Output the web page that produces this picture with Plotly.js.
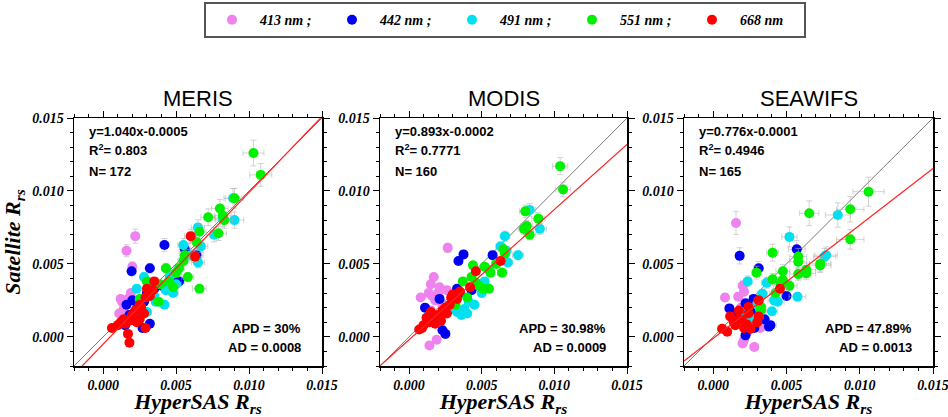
<!DOCTYPE html>
<html>
<head>
<meta charset="utf-8">
<script src="https://cdn.plot.ly/plotly-3.0.1.min.js"></script>
<style>html,body{margin:0;padding:0;background:#fff;}#chart{width:948px;height:417px;}</style>
</head>
<body>
<div id="chart"></div>
<script>
// ---------- DATA ----------
const sensors = ["MERIS", "MODIS", "SEAWIFS"];
const bands = ["413 nm ;", "442 nm ;", "491 nm ;", "551 nm ;", "668 nm"];
const bandColors = ["#EE82EE", "#0000F0", "#00E0F0", "#00F000", "#FF0000"];

const slopes = [1.040, 0.893, 0.776];
const intercepts = [-0.0005, -0.0002, -0.0001];
const eqText = ["y=1.040x-0.0005", "y=0.893x-0.0002", "y=0.776x-0.0001"];
const r2Text = ["0.803", "0.7771", "0.4946"];
const nText = ["172", "160", "165"];
const apdText = ["30%", "30.98%", "47.89%"];
const adText = ["0.0008", "0.0009", "0.0013"];
const errPct = [7, 5, 10];

// MERIS
const meris413x = [0.0022,0.0016,0.0020,0.0012,0.0015,0.0018,0.0014,0.0025,0.0011,0.0019,0.0013,0.0023,0.0016,0.0020];
const meris413y = [0.0069,0.0059,0.0048,0.0026,0.0022,0.0027,0.0019,0.0024,0.0016,0.0030,0.0024,0.0020,0.0014,0.0012];
const meris442x = [0.0042,0.00195,0.0032,0.0056,0.0064,0.0046,0.0052,0.0035,0.0020,0.0016,0.0026,0.0032,0.0027,0.0013,0.0018,0.0024,0.0040,0.0030,0.0015,0.0028];
const meris442y = [0.0063,0.0045,0.0047,0.0060,0.0056,0.0040,0.0038,0.0033,0.0025,0.0022,0.0018,0.0009,0.0006,0.0010,0.0015,0.0021,0.0035,0.0030,0.0008,0.0024];
const meris491x = [0.0065,0.0076,0.0082,0.0089,0.0090,0.0067,0.0065,0.0055,0.0046,0.0043,0.0042,0.0035,0.0028,0.0033,0.0026,0.0030,0.0023,0.0020,0.0036,0.0050,0.0060,0.0048];
const meris491y = [0.0075,0.0070,0.0081,0.0095,0.0080,0.0062,0.0051,0.0063,0.0042,0.0032,0.0022,0.0028,0.0041,0.0035,0.0020,0.0017,0.0033,0.0014,0.0024,0.0036,0.0056,0.0030];
const meris551x = [0.0103,0.0108,0.0090,0.0080,0.0083,0.0072,0.0079,0.0066,0.0066,0.0058,0.0064,0.0052,0.0055,0.0048,0.0050,0.0043,0.0039,0.0038,0.0033,0.0025,0.0030,0.0045,0.0056,0.0082];
const meris551y = [0.0126,0.0111,0.0095,0.0088,0.0080,0.0082,0.0071,0.0072,0.0033,0.0041,0.0065,0.0047,0.0052,0.0034,0.0044,0.0047,0.0036,0.0024,0.0037,0.0026,0.0038,0.0038,0.0056,0.0083];
const meris668x = [0.0060,0.0063,0.0034,0.0035,0.0025,0.0029,0.0020,0.0022,0.0018,0.0012,0.0006,0.0010,0.0015,0.0018,0.0017,0.0029,0.0025,0.0028,0.0032,0.0023,0.0030,0.0014,0.0026];
const meris668y = [0.0069,0.0055,0.0032,0.0038,0.0022,0.0027,0.0015,0.0018,0.0011,0.0010,0.0006,0.0008,0.0009,-0.0004,0.0002,0.0006,0.0012,0.0016,0.0028,0.0010,0.0033,0.0012,0.0020];

// MODIS
const modis413x = [0.00266,0.0017,0.0015,0.0021,0.0026,0.00135,0.0018,0.0015,0.0019,0.0014,0.0008,0.0020,0.0016,0.0023];
const modis413y = [0.0061,0.0041,0.0036,0.0034,0.0032,0.0030,0.0025,0.0018,-0.0002,-0.0006,0.0027,0.0030,0.0028,0.0022];
const modis442x = [0.00375,0.0034,0.00575,0.0043,0.0033,0.0021,0.0011,0.0023,0.0025,0.0027,0.0016,0.0035];
const modis442y = [0.00565,0.0052,0.0056,0.0032,0.0033,0.0026,0.0020,0.00045,0.0002,0.0018,0.0014,0.0030];
const modis491x = [0.0066,0.0067,0.0068,0.0075,0.0090,0.0083,0.0050,0.0052,0.0045,0.0041,0.0036,0.0033,0.0038,0.0030,0.0055,0.0063,0.0040];
const modis491y = [0.0069,0.0059,0.0051,0.0056,0.0074,0.0087,0.0030,0.0038,0.0022,0.0024,0.0015,0.0017,0.0019,0.0020,0.0046,0.0062,0.0016];
const modis551x = [0.0104,0.0106,0.0080,0.0081,0.0079,0.0083,0.0089,0.0064,0.0066,0.0065,0.0056,0.0055,0.0051,0.0052,0.0044,0.0043,0.0037,0.0046,0.0040,0.0048,0.0032,0.0060];
const modis551y = [0.0117,0.0101,0.0086,0.0076,0.0074,0.0070,0.0081,0.0044,0.0057,0.0060,0.0044,0.0033,0.0033,0.0048,0.0049,0.0041,0.0038,0.0037,0.0027,0.0035,0.0022,0.0050];
const modis668x = [0.0063,0.0046,0.0042,0.0035,0.0029,0.0033,0.0025,0.0023,0.0020,0.0017,0.0014,0.0010,0.0007,0.0009,0.0018,0.0022,0.0026,0.0015,0.0028,0.0020,0.0012,0.0030];
const modis668y = [0.0052,0.0045,0.0034,0.0031,0.0027,0.0026,0.0020,0.0018,0.0015,0.0013,0.0010,0.0008,0.0005,0.0006,0.0009,0.0011,0.0016,0.0017,0.0022,0.0012,0.0013,0.0029];

// SEAWIFS
const seawifs413x = [0.00155,0.0008,0.0020,0.0021,0.0017,0.0020,0.0028,0.0021,0.0023,0.0032,0.0026,0.0019];
const seawifs413y = [0.0078,0.0027,0.0035,0.0031,0.00275,-0.00045,-0.0007,-0.0002,0.0003,0.0006,0.0022,0.0020];
const seawifs442x = [0.0018,0.0031,0.0057,0.0050,0.0011,0.0038,0.0028,0.0022,0.0015,0.0026,0.0022,0.00275,0.0039,0.0035];
const seawifs442y = [0.00555,0.0047,0.0060,0.0028,0.00195,0.0007,0.0006,0.0001,0.0016,0.0018,0.0023,0.0026,0.0008,0.0012];
const seawifs491x = [0.0085,0.0052,0.00235,0.00365,0.00575,0.0040,0.00415,0.0044,0.0032,0.0077,0.0076,0.00225,0.00335,0.0025,0.0030];
const seawifs491y = [0.00835,0.00685,0.0038,0.0037,0.00275,0.00175,0.0025,0.0024,0.00195,0.0056,0.0055,0.0016,0.00295,0.0012,0.0022];
const seawifs551x = [0.0106,0.00935,0.00655,0.00935,0.00405,0.0058,0.0058,0.0058,0.00635,0.00635,0.0073,0.0073,0.00475,0.00475,0.0046,0.0052,0.00405,0.00295,0.00325,0.00325,0.00425];
const seawifs551y = [0.00995,0.00874,0.00847,0.00668,0.00577,0.0055,0.00515,0.0043,0.0046,0.00435,0.0050,0.0049,0.0045,0.0039,0.0036,0.0035,0.00395,0.0044,0.00205,0.0018,0.0030];
const seawifs668x = [0.00455,0.0031,0.0024,0.00175,0.00115,0.0006,0.00095,0.00195,0.0023,0.0015,0.0021,0.0030,0.0031,0.0024,0.00255,0.0017,0.0014];
const seawifs668y = [0.0033,0.0025,0.00205,0.0018,0.0014,0.00055,0.00035,0.00115,0.00085,0.0008,0.0006,0.0010,0.0014,0.0016,0.00055,0.00125,0.0010];

const axisRange = [-0.002, 0.015];
const tickValues = [0, 0.005, 0.010, 0.015];

// ---------- BUILD ----------
const dataX = [
  [meris413x, meris442x, meris491x, meris551x, meris668x],
  [modis413x, modis442x, modis491x, modis551x, modis668x],
  [seawifs413x, seawifs442x, seawifs491x, seawifs551x, seawifs668x]
];
const dataY = [
  [meris413y, meris442y, meris491y, meris551y, meris668y],
  [modis413y, modis442y, modis491y, modis551y, modis668y],
  [seawifs413y, seawifs442y, seawifs491y, seawifs551y, seawifs668y]
];

const W = 948, H = 417;
const panelsPx = [[74, 322], [380, 627], [684, 933]];
const topPx = 118, botPx = 366;

const traces = [];
const layout = {
  width: W, height: H,
  margin: {l: 0, r: 0, t: 0, b: 0},
  paper_bgcolor: "#fff", plot_bgcolor: "#fff",
  showlegend: true,
  legend: {
    orientation: "h", x: 204 / W, xanchor: "left", y: 0.995, yanchor: "top",
    bgcolor: "#fff", bordercolor: "#555", borderwidth: 2,
    font: {family: "Liberation Serif", size: 14, weight: "bold", style: "italic", color: "#000"},
    itemwidth: 46,
    entrywidth: 59, entrywidthmode: "pixels",
    itemclick: false, itemdoubleclick: false
  },
  annotations: [],
  shapes: []
};

const tickFont = {family: "Liberation Serif", size: 14, weight: "bold", style: "italic", color: "#000"};
const axTitleFont = {family: "Liberation Serif", size: 22, weight: "bold", style: "italic", color: "#000"};

function baseAxis() {
  return {
    range: axisRange.slice(), autorange: false,
    tickmode: "array", tickvals: tickValues, tickformat: ".3f",
    ticks: "outside", ticklen: 6, tickwidth: 1, tickcolor: "#000",
    showline: true, linecolor: "#000", linewidth: 1.5, mirror: "allticks",
    showgrid: false, zeroline: false,
    ticklabeloverflow: "allow",
    minor: {dtick: 0.001, tick0: 0, ticks: "outside", ticklen: 3, tickwidth: 1, tickcolor: "#000", showgrid: false},
    tickfont: tickFont,
    fixedrange: true
  };
}

sensors.forEach((name, i) => {
  const sfx = i === 0 ? "" : String(i + 1);
  const xa = "x" + sfx, ya = "y" + sfx;
  const [l, r] = panelsPx[i];
  const xax = baseAxis();
  xax.domain = [l / W, r / W];
  xax.anchor = ya;
  xax.title = {text: "HyperSAS R<sub>rs</sub>", font: axTitleFont, standoff: 1};
  const yax = baseAxis();
  yax.domain = [1 - botPx / H, 1 - topPx / H];
  yax.anchor = xa;
  if (i === 0) yax.title = {text: "Satellite R<sub>rs</sub>", font: axTitleFont, standoff: 6};
  layout["xaxis" + sfx] = xax;
  layout["yaxis" + sfx] = yax;

  // 1:1 line
  traces.push({
    type: "scatter", mode: "lines", x: axisRange, y: axisRange,
    xaxis: xa, yaxis: ya, line: {color: "#7a7a7a", width: 1},
    showlegend: false, hoverinfo: "skip"
  });

  // data
  bands.forEach((b, k) => {
    traces.push({
      type: "scatter", mode: "markers",
      x: dataX[i][k], y: dataY[i][k],
      xaxis: xa, yaxis: ya,
      name: b, legendgroup: b, showlegend: i === 0,
      marker: {color: bandColors[k], size: 10, line: {width: 0}},
      error_x: {type: "percent", value: errPct[i], color: "rgba(175,175,175,0.55)", thickness: 1, width: 3},
      error_y: {type: "percent", value: errPct[i], color: "rgba(175,175,175,0.55)", thickness: 1, width: 3}
    });
  });

  // regression line
  traces.push({
    type: "scatter", mode: "lines", x: axisRange,
    y: axisRange.map(v => slopes[i] * v + intercepts[i]),
    xaxis: xa, yaxis: ya, line: {color: "#FF2020", width: 1.2},
    showlegend: false, hoverinfo: "skip", cliponaxis: true
  });

  const statFont = {family: "Liberation Sans", size: 13, weight: "bold", color: "#000"};
  const ann = (text, x, y, xanchor) => ({
    text, xref: xa + " domain", yref: ya + " domain", x, y,
    xanchor, yanchor: "middle", showarrow: false, font: statFont
  });
  layout.annotations.push(ann(eqText[i], 13 / 248, 0.944, "left"));
  layout.annotations.push(ann("R<sup>2</sup>= " + r2Text[i], 13 / 248, 0.871, "left"));
  layout.annotations.push(ann("N= " + nText[i], 13 / 248, 0.786, "left"));
  layout.annotations.push(ann("APD = " + apdText[i], 1 - 19 / 248, 0.153, "right"));
  layout.annotations.push(ann("AD = " + adText[i], 1 - 19 / 248, 0.073, "right"));
  layout.annotations.push({
    text: name, xref: xa + " domain", yref: "paper", x: 0.5, y: 1 - 99 / H,
    xanchor: "center", yanchor: "middle", showarrow: false,
    font: {family: "Liberation Sans", size: 22, color: "#000"}
  });
});

Plotly.newPlot("chart", traces, layout, {staticPlot: true, displayModeBar: false});
</script>
</body>
</html>
